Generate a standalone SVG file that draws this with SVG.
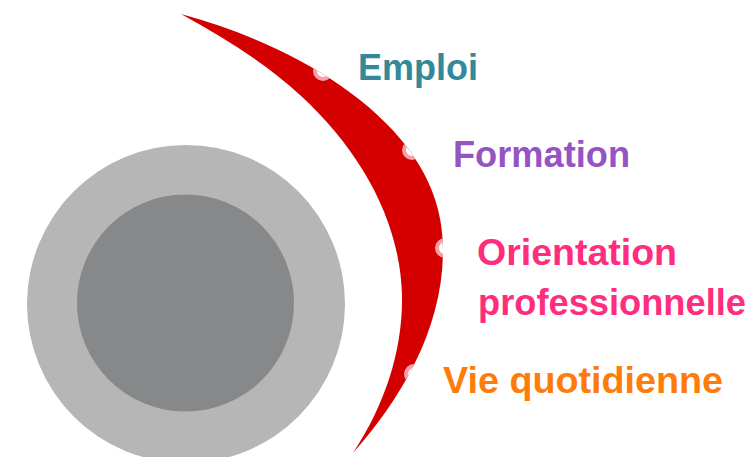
<svg xmlns="http://www.w3.org/2000/svg" width="752" height="457" viewBox="0 0 752 457">
<style>
.lbl{font-family:"Liberation Sans",Arial,sans-serif;font-weight:bold;font-size:36px}
.dot{fill:#ffffff;stroke:#f2a2a8;stroke-width:4}
</style>
<defs>
<path id="arcShape" d="M181,14 C270,38 360,85 407,147 C430,178 443,210 443,250 C443,330 400,400 353,453 C385,405 403,350 402,295 C400,220 360,150 300,95 C265,63 225,38 181,14 Z"/>
<clipPath id="arcClip"><use href="#arcShape"/></clipPath>
</defs>
<rect width="752" height="457" fill="#ffffff"/>
<g id="circles">
<circle cx="186" cy="304" r="159" fill="#b6b6b6"/>
<circle cx="185.5" cy="303" r="108.5" fill="#87888a"/>
</g>
<g id="arc">
<use href="#arcShape" fill="#d40000"/>
</g>
<g id="connectors" clip-path="url(#arcClip)">
<circle class="dot" cx="323" cy="71" r="8"/>
<circle class="dot" cx="412" cy="150" r="8"/>
<circle class="dot" cx="445" cy="248" r="8"/>
<circle class="dot" cx="414" cy="374" r="8"/>
</g>
<g id="emploi"><text class="lbl" x="358" y="80" fill="#31899a" textLength="120" lengthAdjust="spacingAndGlyphs">Emploi</text></g>
<g id="formation"><text class="lbl" x="453" y="167" fill="#9454c4" textLength="177" lengthAdjust="spacingAndGlyphs">Formation</text></g>
<g id="orientation"><text class="lbl" x="477" y="265" fill="#ff2d7d" textLength="200" lengthAdjust="spacingAndGlyphs">Orientation</text>
<text class="lbl" x="478" y="315" fill="#ff2d7d" textLength="268" lengthAdjust="spacingAndGlyphs">professionnelle</text></g>
<g id="vie"><text class="lbl" x="443" y="393" fill="#ff7c0a" textLength="280" lengthAdjust="spacingAndGlyphs">Vie quotidienne</text></g>
</svg>
